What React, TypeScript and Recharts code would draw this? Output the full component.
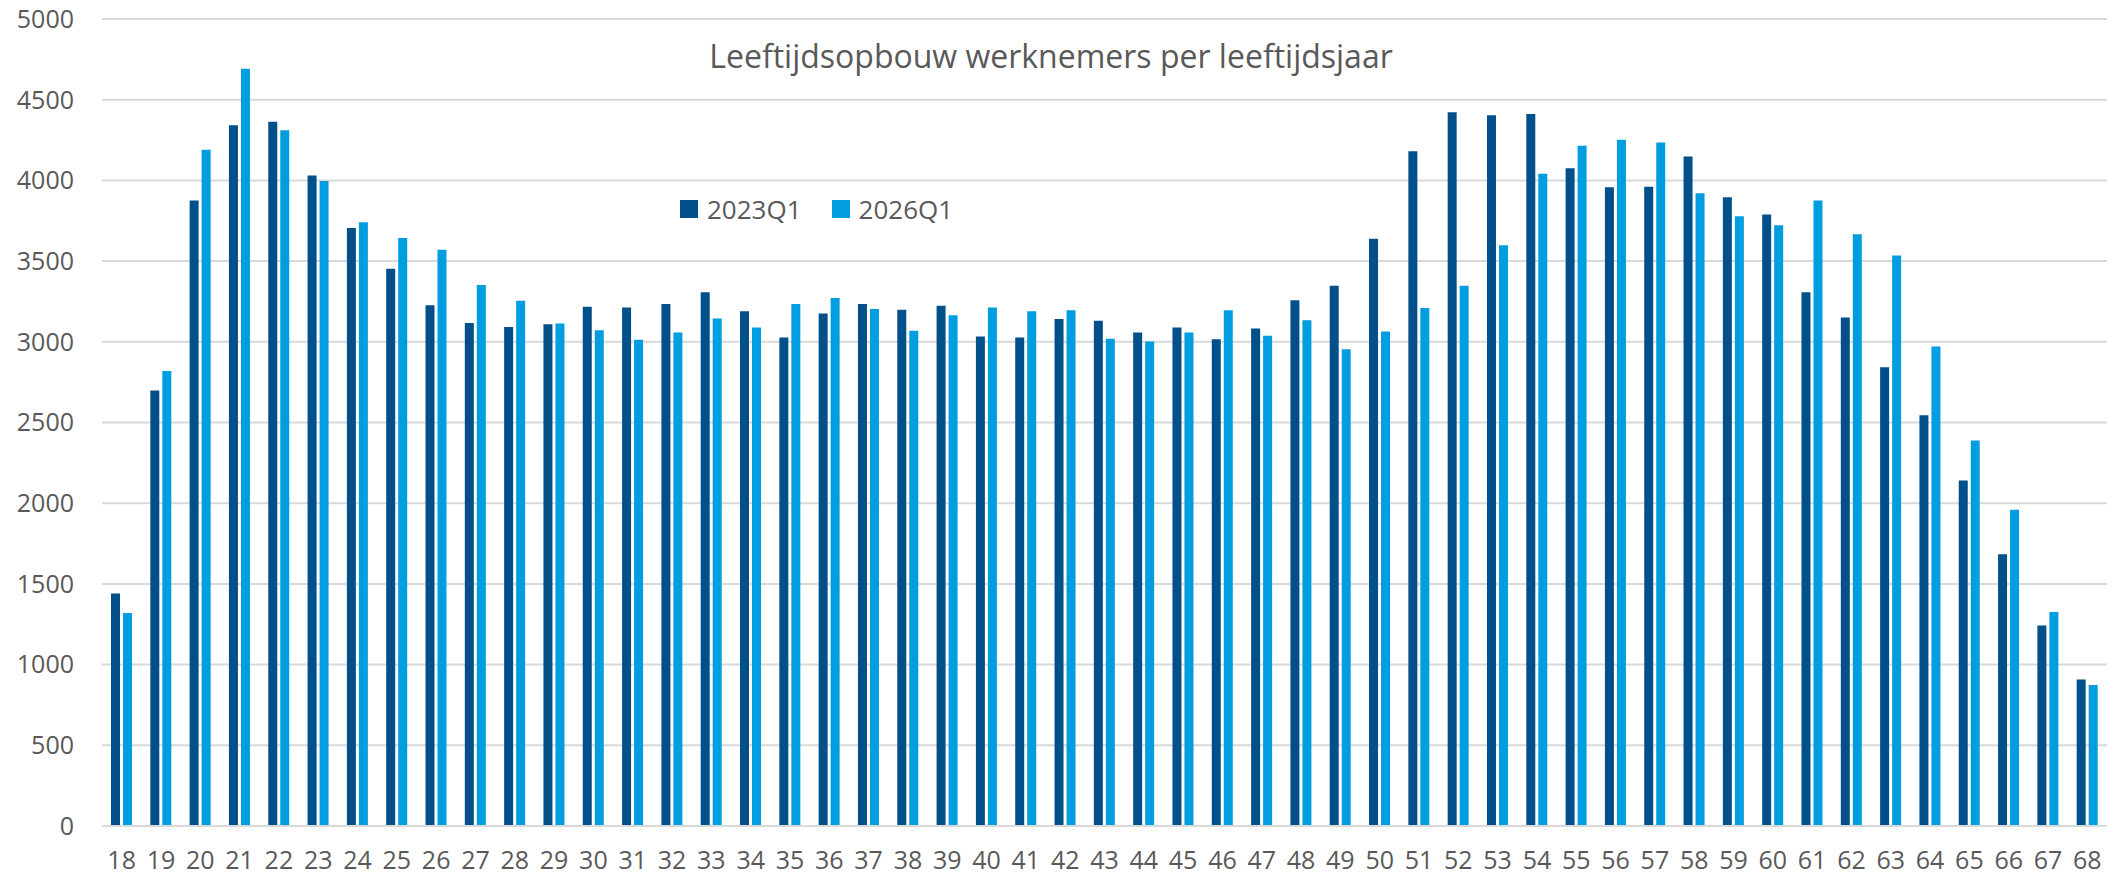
import { Bar, BarChart, CartesianGrid, Legend, XAxis, YAxis } from "recharts"

const ages = [
    "18", "19", "20", "21", "22", "23", "24", "25", "26", "27", "28", "29", "30",
    "31", "32", "33", "34", "35", "36", "37", "38", "39", "40", "41", "42", "43",
    "44", "45", "46", "47", "48", "49", "50", "51", "52", "53", "54", "55", "56",
    "57", "58", "59", "60", "61", "62", "63", "64", "65", "66", "67", "68",
]

const q2023 = [
    1440, 2698, 3875, 4342, 4363, 4030, 3705, 3452, 3227, 3116, 3092, 3109, 3217,
    3213, 3234, 3307, 3189, 3026, 3175, 3234, 3199, 3224, 3033, 3026, 3141, 3130,
    3058, 3089, 3016, 3082, 3258, 3348, 3639, 4180, 4422, 4404, 4411, 4075, 3958,
    3961, 4148, 3895, 3788, 3307, 3151, 2843, 2545, 2140, 1683, 1243, 907,
]

const q2026 = [
    1319, 2819, 4190, 4692, 4311, 3996, 3740, 3643, 3570, 3352, 3255, 3113, 3071,
    3012, 3058, 3144, 3089, 3234, 3272, 3203, 3068, 3165, 3213, 3189, 3196, 3019,
    3002, 3058, 3196, 3037, 3134, 2954, 3064, 3210, 3348, 3598, 4041, 4214, 4252,
    4235, 3920, 3778, 3722, 3875, 3667, 3535, 2971, 2389, 1960, 1326, 873,
]

const yTicks = [0, 500, 1000, 1500, 2000, 2500, 3000, 3500, 4000, 4500, 5000]

const title = "Leeftijdsopbouw werknemers per leeftijdsjaar"

const textColor = "#595959"
const font = "'Open Sans', sans-serif"

// eslint-disable-next-line @typescript-eslint/no-explicit-any
function LegendContent(props: any) {
    const items = props.payload || []
    return (
        <div style={{ display: "flex", alignItems: "center", fontFamily: font, fontSize: 26, color: textColor }}>
            {items.map((item: any, i: number) => (
                <div key={item.value} style={{ display: "flex", alignItems: "center", marginLeft: i === 0 ? 0 : 30 }}>
                    <span style={{ display: "inline-block", width: 18, height: 18, background: item.color, marginRight: 9 }} />
                    <span style={{ lineHeight: "26px" }}>{item.value}</span>
                </div>
            ))}
        </div>
    )
}

function App() {
    const data = ages.map((age, i) => ({ age, a: q2023[i], b: q2026[i] }))

    return (
        <div style={{ position: "absolute", left: 0, top: 0, width: 2113, height: 877, background: "#fff" }}>
            <div
                style={{
                    position: "absolute",
                    left: 0,
                    top: 40,
                    width: 2102,
                    textAlign: "center",
                    fontFamily: font,
                    fontSize: 32,
                    lineHeight: "32px",
                    color: textColor,
                    zIndex: 2,
                }}
            >
                {title}
            </div>
            <BarChart
                width={2113}
                height={877}
                data={data}
                margin={{ top: 19, right: 6, bottom: 0, left: 0 }}
                barGap={3}
            >
                <CartesianGrid vertical={false} stroke="#d9d9d9" strokeWidth={2} />
                <XAxis
                    dataKey="age"
                    height={51}
                    tickLine={false}
                    tickSize={0}
                    tickMargin={25}
                    axisLine={{ stroke: "#d9d9d9", strokeWidth: 2 }}
                    interval={0}
                    tick={{ fill: textColor, fontSize: 25, fontFamily: font }}
                />
                <YAxis
                    width={102}
                    domain={[0, 5000]}
                    ticks={yTicks}
                    tickLine={false}
                    axisLine={false}
                    tickSize={0}
                    tickMargin={28}
                    tick={{ fill: textColor, fontSize: 25, fontFamily: font }}
                />
                <Legend
                    layout="vertical"
                    verticalAlign="middle"
                    align="center"
                    content={LegendContent}
                    wrapperStyle={{ left: 680, top: 196, width: 320, height: 26 }}
                />
                <Bar dataKey="a" name="2023Q1" fill="#01508a" barSize={9} isAnimationActive={false} />
                <Bar dataKey="b" name="2026Q1" fill="#009ee0" barSize={9} isAnimationActive={false} />
            </BarChart>
        </div>
    )
}

export default App
